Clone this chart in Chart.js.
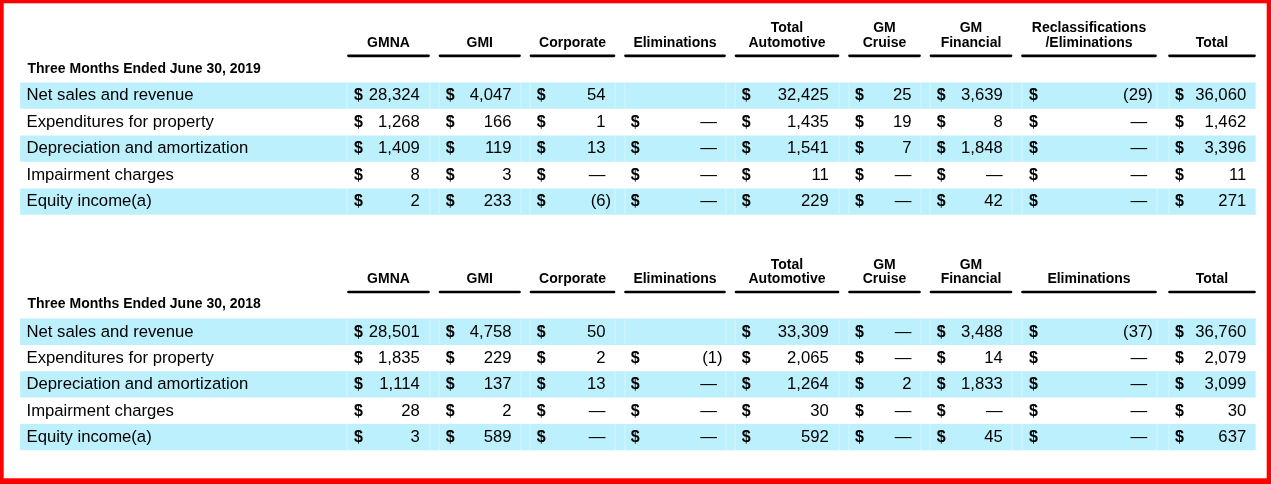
<!DOCTYPE html>
<html>
<head>
<meta charset="utf-8">
<script src="https://cdn.jsdelivr.net/npm/chart.js@4/dist/chart.umd.min.js"></script>
<style>
  html, body { margin: 0; padding: 0; background: #fff; }
  #wrap { width: 1271px; height: 484px; }
</style>
</head>
<body>
<div id="wrap"><canvas id="c" width="1271" height="484"></canvas></div>
<script>
// ---------- DATA ----------
const periods = ['Three Months Ended June 30, 2019', 'Three Months Ended June 30, 2018'];
const headers2019 = [['GMNA'], ['GMI'], ['Corporate'], ['Eliminations'], ['Total', 'Automotive'], ['GM', 'Cruise'], ['GM', 'Financial'], ['Reclassifications', '/Eliminations'], ['Total']];
const headers2018 = [['GMNA'], ['GMI'], ['Corporate'], ['Eliminations'], ['Total', 'Automotive'], ['GM', 'Cruise'], ['GM', 'Financial'], ['Eliminations'], ['Total']];
const rowLabels = ['Net sales and revenue', 'Expenditures for property', 'Depreciation and amortization', 'Impairment charges', 'Equity income(a)'];

// columns: GMNA, GMI, Corporate, Eliminations, Total Automotive, GM Cruise, GM Financial, Reclass/Elim, Total
// null = blank cell, 0 = dash
const netSales2019     = [28324, 4047, 54, null, 32425, 25, 3639, -29, 36060];
const expenditures2019 = [1268, 166, 1, 0, 1435, 19, 8, 0, 1462];
const depreciation2019 = [1409, 119, 13, 0, 1541, 7, 1848, 0, 3396];
const impairment2019   = [8, 3, 0, 0, 11, 0, 0, 0, 11];
const equityIncome2019 = [2, 233, -6, 0, 229, 0, 42, 0, 271];

const netSales2018     = [28501, 4758, 50, null, 33309, 0, 3488, -37, 36760];
const expenditures2018 = [1835, 229, 2, -1, 2065, 0, 14, 0, 2079];
const depreciation2018 = [1114, 137, 13, 0, 1264, 2, 1833, 0, 3099];
const impairment2018   = [28, 2, 0, 0, 30, 0, 0, 0, 30];
const equityIncome2018 = [3, 589, 0, 0, 592, 0, 45, 0, 637];

const tableValues = [
  [netSales2019, expenditures2019, depreciation2019, impairment2019, equityIncome2019],
  [netSales2018, expenditures2018, depreciation2018, impairment2018, equityIncome2018]
];
const tableHeaders = [headers2019, headers2018];

// ---------- LAYOUT (positions/styles) ----------
const W = 1271, H = 484;
const COL_SPAN = [[347.5, 429.5], [439, 520.5], [530, 615], [624.5, 725.5], [735, 839], [848.5, 920.5], [930, 1012], [1021.5, 1156.5], [1168.5, 1255.5]];
const DOLLAR_X = [354, 445.7, 536.7, 630.7, 741.7, 855, 936.7, 1029, 1175];
const NUM_RIGHT = [419.8, 511.5, 605.5, 717, 828.8, 911.5, 1002.8, 1147.2, 1246.2];
const BAND_X = [20.5, 1255.5];
const LABEL_X = 26.5;
const TABLES = [
  { hdrBase: [31.7, 46.7], ulY: 55.8, periodBase: 73.3, rowTop: 82.7, rowStep: 26.5, bandH: 25.8 },
  { hdrBase: [269.3, 283.3], ulY: 292, periodBase: 308.3, rowTop: 319, rowStep: 26.33, bandH: 25.5 }
];
const FONT = '"Liberation Sans", Arial, Helvetica, sans-serif';
const BAND_COLOR = '#bcf0fc';

function fmt(v) {
  if (v === null) return '';
  if (v === 0) return '\u2014';
  const s = Math.abs(v).toLocaleString('en-US');
  return v < 0 ? '(' + s + ')' : s;
}

// band datasets (cyan stripes on alternate rows)
const bandData = [];
TABLES.forEach((t, ti) => {
  rowLabels.forEach((_, ri) => {
    if (ri % 2 === 0) bandData.push({ x: BAND_X.slice(), y: t.rowTop + ri * t.rowStep + t.bandH / 2, h: t.bandH });
  });
});

const tablePlugin = {
  id: 'tablePlugin',
  beforeDraw(chart) {
    const c = chart.ctx;
    c.save();
    c.fillStyle = '#fff';
    c.fillRect(0, 0, chart.width, chart.height);
    c.restore();
  },
  afterDatasetsDraw(chart) {
    const c = chart.ctx;
    const xs = chart.scales.x, ys = chart.scales.y;
    const X = v => xs.getPixelForValue(v);
    const Y = v => ys.getPixelForValue(v);
    c.save();
    // light separators inside bands
    c.fillStyle = 'rgba(255,255,255,0.45)';
    bandData.forEach(b => {
      const top = Y(b.y - b.h / 2), bot = Y(b.y + b.h / 2);
      COL_SPAN.forEach(sp => {
        [sp[0], sp[1]].forEach(xv => c.fillRect(Math.round(X(xv)) - 0.5, Math.min(top, bot), 1, Math.abs(bot - top)));
      });
    });
    c.fillStyle = '#000';
    c.strokeStyle = '#000';
    TABLES.forEach((t, ti) => {
      const hdrs = tableHeaders[ti];
      // headers
      c.font = 'bold 14px ' + FONT;
      c.textAlign = 'center';
      c.textBaseline = 'alphabetic';
      hdrs.forEach((lines, ci) => {
        const cx = X((COL_SPAN[ci][0] + COL_SPAN[ci][1]) / 2);
        const start = 2 - lines.length;
        lines.forEach((ln, li) => c.fillText(ln, cx, Y(t.hdrBase[start + li])));
        // underline
        c.lineWidth = 2.7;
        c.lineCap = 'round';
        c.beginPath();
        c.moveTo(X(COL_SPAN[ci][0]) + 1, Y(t.ulY));
        c.lineTo(X(COL_SPAN[ci][1]) - 1, Y(t.ulY));
        c.stroke();
      });
      // period label
      c.textAlign = 'left';
      c.fillText(periods[ti], X(LABEL_X + 1), Y(t.periodBase));
      // rows
      rowLabels.forEach((lab, ri) => {
        const base = Y(t.rowTop + ri * t.rowStep + 17.6);
        c.font = '16.7px ' + FONT;
        c.textAlign = 'left';
        c.fillText(lab, X(LABEL_X), base);
        tableValues[ti][ri].forEach((v, ci) => {
          if (v === null) return;
          c.font = 'bold 16px ' + FONT;
          c.textAlign = 'left';
          c.fillText('$', X(DOLLAR_X[ci]), base);
          c.font = '16.7px ' + FONT;
          c.textAlign = 'right';
          const txt = fmt(v);
          let rx = X(NUM_RIGHT[ci]);
          if (v < 0) rx += c.measureText(')').width;
          c.fillText(txt, rx, base);
        });
      });
    });
    c.restore();
  },
  afterDraw(chart) {
    const c = chart.ctx;
    c.save();
    c.fillStyle = '#ff0000';
    c.fillRect(0, 0, W, 3.3);
    c.fillRect(0, 0, 3.7, H);
    c.fillRect(W - 4.3, 0, 4.3, H);
    c.fillRect(0, H - 5.7, W, 5.7);
    c.restore();
  }
};

new Chart(document.getElementById('c'), {
  type: 'bar',
  data: {
    datasets: [{
      data: bandData,
      backgroundColor: BAND_COLOR,
      borderWidth: 0,
      barThickness: 25.7,
      grouped: false
    }]
  },
  options: {
    indexAxis: 'y',
    responsive: false,
    animation: false,
    events: [],
    layout: { padding: 0 },
    scales: {
      x: { type: 'linear', min: 0, max: W, display: false, offset: false, grace: 0 },
      y: { type: 'linear', min: 0, max: H, reverse: true, display: false, offset: false, grace: 0 }
    },
    plugins: { legend: { display: false }, tooltip: { enabled: false } }
  },
  plugins: [tablePlugin]
});
</script>
</body>
</html>
